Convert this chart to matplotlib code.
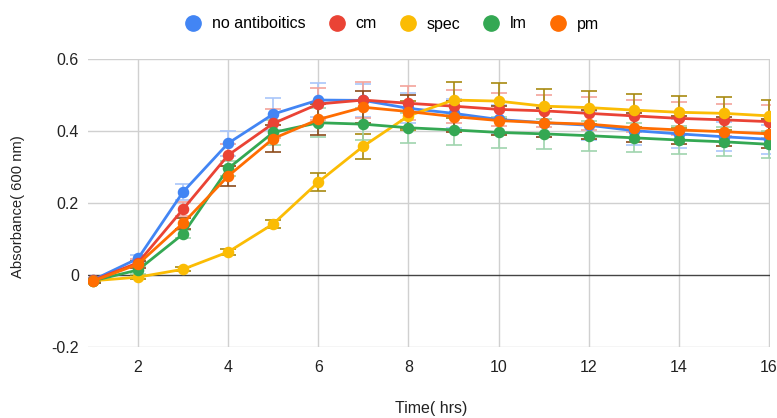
import matplotlib
matplotlib.use("Agg")
import matplotlib.pyplot as plt
from matplotlib.lines import Line2D

plt.rcParams['font.family'] = ['Liberation Sans', 'DejaVu Sans']

hours = [1, 2, 3, 4, 5, 6, 7, 8, 9, 10, 11, 12, 13, 14, 15, 16]
series_names = ["no antiboitics", "cm", "spec", "lm", "pm"]

no_antibiotics = [-0.014, 0.046, 0.231, 0.366, 0.447, 0.486, 0.485, 0.463, 0.449, 0.432, 0.423, 0.416, 0.401, 0.392, 0.384, 0.377]
cm = [-0.015, 0.034, 0.183, 0.333, 0.421, 0.475, 0.486, 0.477, 0.469, 0.460, 0.456, 0.449, 0.442, 0.435, 0.431, 0.426]
spec = [-0.016, -0.006, 0.016, 0.064, 0.142, 0.258, 0.358, 0.442, 0.486, 0.483, 0.469, 0.465, 0.458, 0.452, 0.449, 0.442]
lm = [-0.016, 0.014, 0.114, 0.296, 0.396, 0.423, 0.419, 0.409, 0.403, 0.396, 0.392, 0.387, 0.381, 0.375, 0.370, 0.363]
pm = [-0.017, 0.030, 0.144, 0.275, 0.379, 0.432, 0.466, 0.454, 0.440, 0.429, 0.423, 0.419, 0.409, 0.403, 0.398, 0.392]

err_no_antibiotics = [0.005, 0.010, 0.022, 0.035, 0.045, 0.048, 0.045, 0.042, 0.040, 0.040, 0.040, 0.040, 0.040, 0.040, 0.040, 0.040]
err_cm = [0.005, 0.010, 0.020, 0.030, 0.040, 0.045, 0.050, 0.047, 0.046, 0.045, 0.045, 0.045, 0.045, 0.045, 0.045, 0.045]
err_spec = [0.004, 0.005, 0.005, 0.008, 0.012, 0.025, 0.035, 0.040, 0.050, 0.050, 0.047, 0.046, 0.046, 0.045, 0.045, 0.044]
err_lm = [0.005, 0.010, 0.010, 0.020, 0.035, 0.040, 0.045, 0.042, 0.042, 0.042, 0.042, 0.042, 0.040, 0.040, 0.040, 0.038]
err_pm = [0.005, 0.010, 0.015, 0.027, 0.038, 0.043, 0.045, 0.045, 0.042, 0.040, 0.040, 0.040, 0.040, 0.040, 0.040, 0.040]

x_ticks = [2, 4, 6, 8, 10, 12, 14, 16]
y_ticks = [-0.2, 0, 0.2, 0.4, 0.6]
y_tick_labels = ["-0.2", "0", "0.2", "0.4", "0.6"]

colors = ["#4285F4", "#EA4335", "#FBBC04", "#34A853", "#FF6D01"]
err_colors = ["#a9c6fa", "#f3a39b", "#a88a10", "#9fd4ae", "#8c4a1a"]

data = [no_antibiotics, cm, spec, lm, pm]
errs = [err_no_antibiotics, err_cm, err_spec, err_lm, err_pm]

fig = plt.figure(figsize=(7.77, 4.18), dpi=100)
ax = fig.add_axes([88/777, 1 - 347/418, (770 - 88)/777, (347 - 59)/418])

for yv in y_ticks:
    if yv == 0:
        ax.axhline(0, color="#444444", lw=1.0, zorder=1)
    else:
        ax.axhline(yv, color="#d0d0d0", lw=1.0, zorder=0)
for xv in x_ticks:
    ax.axvline(xv, color="#d0d0d0", lw=1.0, zorder=0)

for vals, e, c, ec, name in zip(data, errs, colors, err_colors, series_names):
    ax.errorbar(hours, vals, yerr=e, fmt='none', ecolor=ec, elinewidth=1.2,
                capsize=5.5, capthick=1.2, zorder=2)
    ax.plot(hours, vals, color=c, lw=2.0, marker='o', markersize=7.3, zorder=3, label=name)

ax.set_xlim(0.89, 16.02)
ax.set_ylim(-0.2, 0.6)
ax.set_xticks(x_ticks)
ax.set_yticks(y_ticks)
ax.set_yticklabels(y_tick_labels)
for s in ax.spines.values():
    s.set_visible(False)
ax.tick_params(length=0, labelsize=11.5, colors="#222222")
ax.tick_params(axis='y', pad=6.5)
ax.tick_params(axis='x', pad=9)

fig.text(18/777, 1 - 207/418, "Absorbance( 600 nm)", rotation=90, ha='center', va='center',
         fontsize=10.6, color="#222222")
fig.text(431/777, 1 - 408/418, "Time( hrs)", ha='center', va='center', fontsize=11.5, color="#222222")

handles = [Line2D([], [], ls='none', marker='o', markersize=11, color=c) for c in colors]
fig.legend(handles, series_names, loc='center', bbox_to_anchor=(392/777, 1 - 24/418), ncol=5,
           frameon=False, fontsize=11.5, handletextpad=0.69, columnspacing=1.42, handlelength=1.0,
           borderpad=0, borderaxespad=0)

fig.savefig("out.png", dpi=100)
